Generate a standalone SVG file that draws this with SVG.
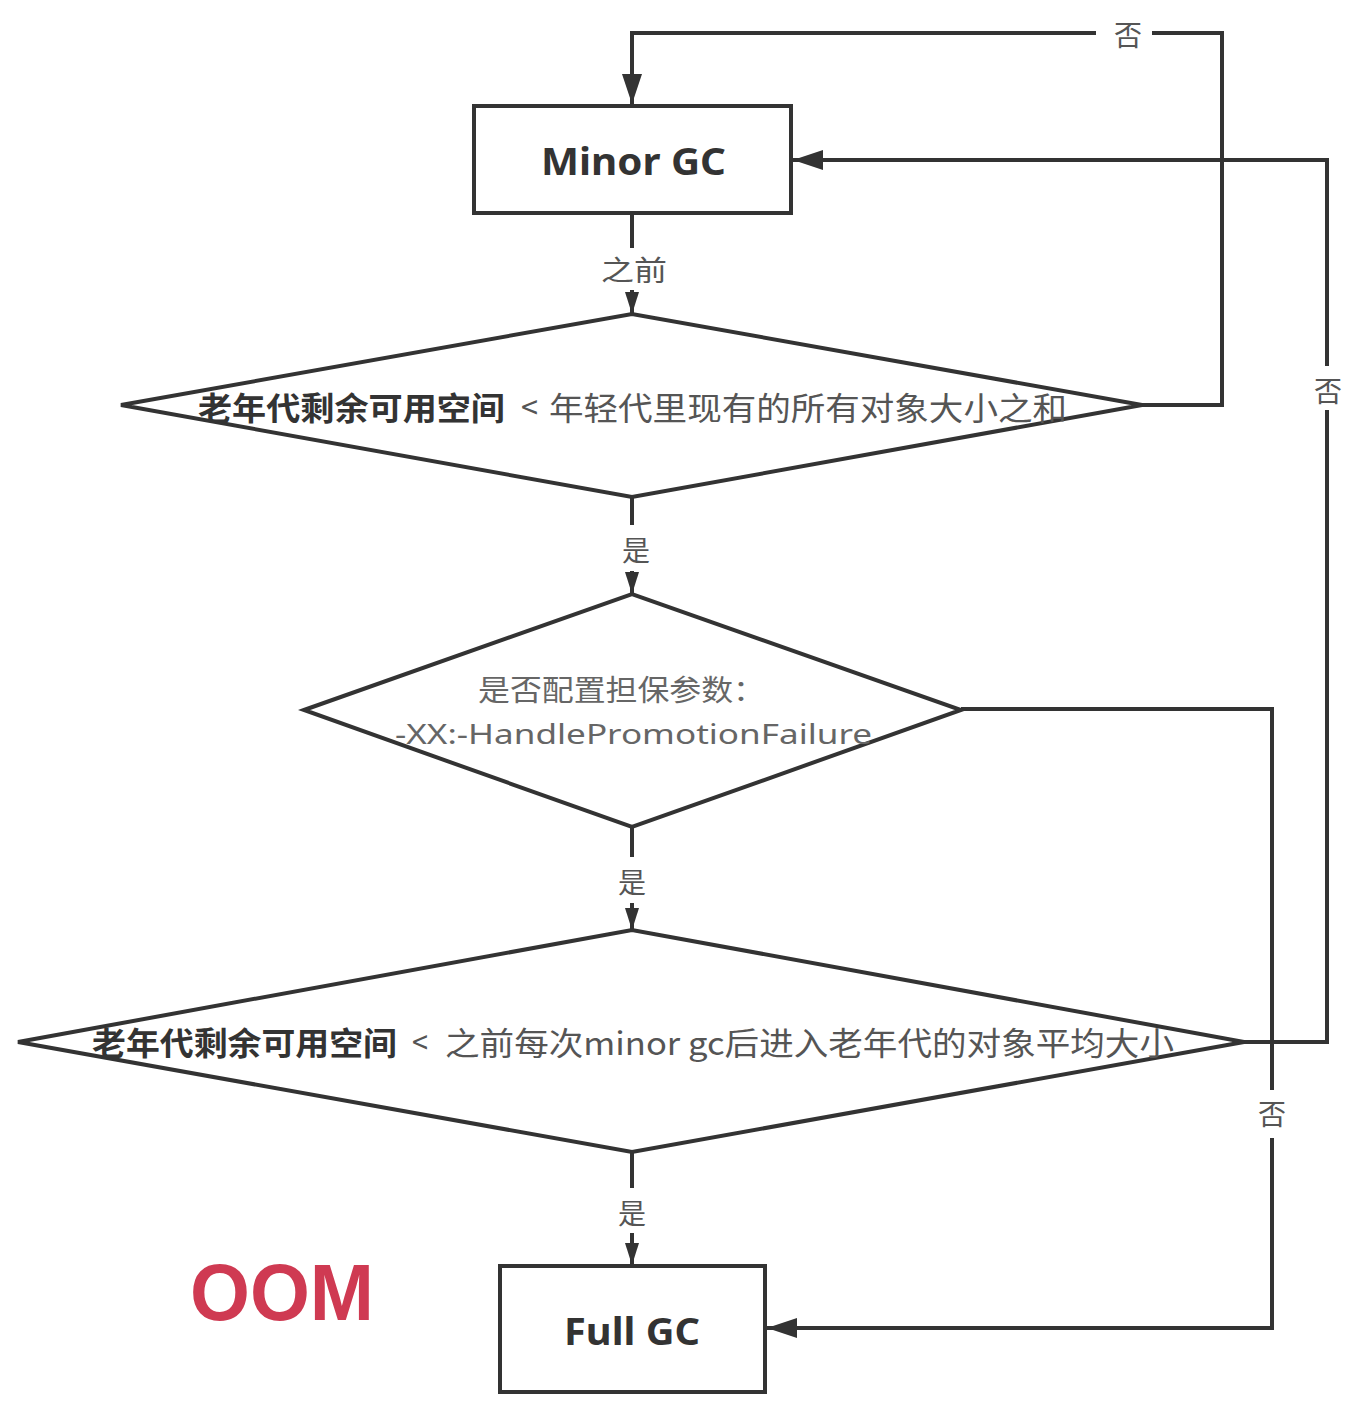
<svg xmlns="http://www.w3.org/2000/svg" width="1368" height="1412" viewBox="0 0 1368 1412">
<style>
.shape{fill:#fff;stroke:#333;stroke-width:4;stroke-linejoin:miter}
.conn{fill:none;stroke:#333;stroke-width:4}
.title{font-family:"Noto Sans","Noto Sans CJK SC",sans-serif;font-weight:bold;font-size:38px;fill:#333}
.dk{font-family:"Noto Sans CJK SC",sans-serif;font-weight:bold;font-size:32px;fill:#333}
.lt{font-family:"Noto Sans CJK SC",sans-serif;font-size:32px;fill:#555}
.d2{font-family:"Noto Sans CJK SC",sans-serif;font-size:29px;fill:#666}
.d2l{font-family:"Noto Sans","Liberation Sans",sans-serif;font-size:28px;fill:#666}
.lbl{font-family:"Noto Sans CJK SC",sans-serif;font-size:28px;fill:#555;text-anchor:middle}
.oom{font-family:"Liberation Sans",Arial,sans-serif;font-weight:bold;font-size:80px;fill:#cf3a52}
</style>
<defs>
<marker id="sm" viewBox="0 0 22 14" refX="22" refY="7" markerWidth="22" markerHeight="14" markerUnits="userSpaceOnUse" orient="auto"><path d="M0,0 L22,7 L0,14 z" fill="#333"/></marker>
<marker id="bg" viewBox="0 0 30 20" refX="30" refY="10" markerWidth="30" markerHeight="20" markerUnits="userSpaceOnUse" orient="auto"><path d="M0,0 L30,10 L0,20 z" fill="#333"/></marker>
</defs>
<rect width="1368" height="1412" fill="#fff"/>

<g id="connectors">
<path class="conn" d="M632 215 V248"/>
<path class="conn" d="M632 290 V314" marker-end="url(#sm)"/>
<path class="conn" d="M632 497 V525"/>
<path class="conn" d="M632 571 V594" marker-end="url(#sm)"/>
<path class="conn" d="M632 827 V857"/>
<path class="conn" d="M632 903 V930" marker-end="url(#sm)"/>
<path class="conn" d="M632 1152 V1188"/>
<path class="conn" d="M632 1233 V1265" marker-end="url(#sm)"/>
<path class="conn" d="M1142 405 H1222 V33 H1152"/>
<path class="conn" d="M1096 33 H632 V104" marker-end="url(#bg)"/>
<path class="conn" d="M1244 1042 H1327 V410"/>
<path class="conn" d="M1327 366 V160 H793" marker-end="url(#bg)"/>
<path class="conn" d="M961 709 H1272 V1090"/>
<path class="conn" d="M1272 1138 V1328 H767" marker-end="url(#bg)"/>
<text class="lbl" x="634" y="281" textLength="66" lengthAdjust="spacingAndGlyphs">之前</text>
<text class="lbl" x="636" y="561">是</text>
<text class="lbl" x="632" y="893">是</text>
<text class="lbl" x="632" y="1224">是</text>
<text class="lbl" x="1128" y="46">否</text>
<text class="lbl" x="1328" y="402">否</text>
<text class="lbl" x="1272" y="1125">否</text>
</g>

<g id="minor-gc">
<rect class="shape" x="474" y="106" width="317" height="107"/>
<text class="title" x="541" y="175" textLength="185" lengthAdjust="spacingAndGlyphs">Minor GC</text>
</g>

<g id="decision-1">
<polygon class="shape" points="121,405 632,314 1142,405 632,497"/>
<text class="dk" x="198" y="420" textLength="307" lengthAdjust="spacingAndGlyphs">老年代剩余可用空间</text>
<text class="lt" x="521" y="419" textLength="17" lengthAdjust="spacingAndGlyphs" font-size="28">&lt;</text>
<text class="lt" x="549" y="420" textLength="518" lengthAdjust="spacingAndGlyphs">年轻代里现有的所有对象大小之和</text>
</g>

<g id="decision-2">
<polygon class="shape" points="304,710 632,594 961,710 632,827"/>
<text class="d2" x="478" y="701" textLength="287" lengthAdjust="spacingAndGlyphs">是否配置担保参数：</text>
<text class="d2l" x="395" y="744" textLength="477" lengthAdjust="spacingAndGlyphs">-XX:-HandlePromotionFailure</text>
</g>

<g id="decision-3">
<polygon class="shape" points="18,1042 632,930 1244,1042 632,1152"/>
<text class="dk" x="92" y="1055" textLength="305" lengthAdjust="spacingAndGlyphs">老年代剩余可用空间</text>
<text class="lt" x="412" y="1054" textLength="16" lengthAdjust="spacingAndGlyphs" font-size="28">&lt;</text>
<text class="lt" x="445" y="1055" textLength="729" lengthAdjust="spacingAndGlyphs">之前每次minor gc后进入老年代的对象平均大小</text>
</g>

<g id="full-gc">
<rect class="shape" x="500" y="1266" width="265" height="126"/>
<text class="title" x="564" y="1345" textLength="136" lengthAdjust="spacingAndGlyphs">Full GC</text>
</g>

<g id="oom">
<text class="oom" x="190" y="1320" textLength="184" lengthAdjust="spacingAndGlyphs">OOM</text>
</g>
</svg>
